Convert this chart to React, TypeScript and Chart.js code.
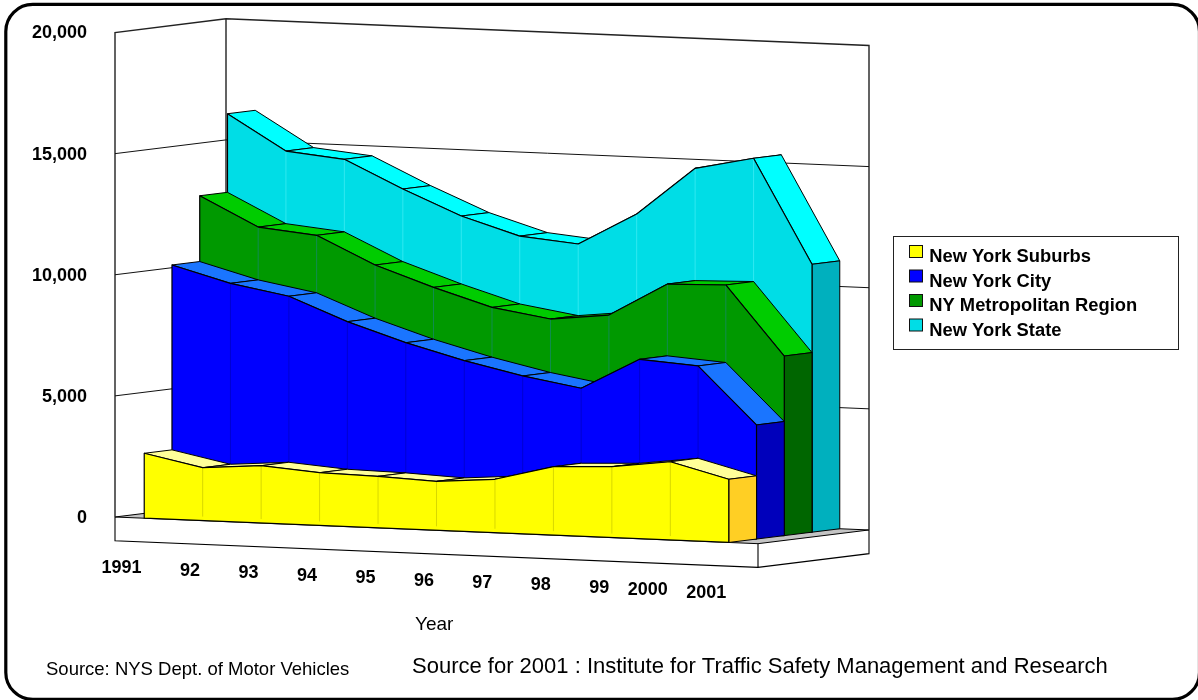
import React, { useEffect, useRef } from "react";
import { Chart, registerables } from "chart.js";

Chart.register(...registerables);

const years = ["1991", "92", "93", "94", "95", "96", "97", "98", "99", "2000", "2001"];
const suburbs = [2680, 2185, 2368, 2180, 2130, 2023, 2208, 2828, 2927, 3233, 2609];
const city = [10312, 9655, 9222, 8273, 7505, 6865, 6332, 5924, 7220, 7046, 4710];
const metro = [13028, 11835, 11595, 10469, 9647, 8921, 8540, 8805, 10184, 10246, 7414];
const state = [16272, 14832, 14592, 13465, 12450, 11723, 11496, 12834, 14819, 15335, 11059];
const yTicks = [0, 5000, 10000, 15000, 20000];

const seriesNames = ["New York Suburbs", "New York City", "NY Metropolitan Region", "New York State"];
const frontColors = ["#ffff00", "#0000ff", "#009900", "#00dde6"];
const topColors = ["#ffff99", "#1a75ff", "#00cc00", "#00ffff"];
const sideColors = ["#ffcf24", "#0000bb", "#006600", "#00b0be"];
const seamColors = ["#d8d800", "#0000d0", "#108c50", "#30e8f0"];

const FONT = '"Liberation Sans", Arial, sans-serif';
const SHEAR = 0.0415;
const DEPTH_X = 27.75;
const DEPTH_Y = -3.43;
const LAYERS = 4;

function buildPlugin() {
  const ground = (chart: any, x: number) => SHEAR * (x - chart.chartArea.left);

  return {
    id: "area3d",
    beforeDraw(chart: any) {
      const { ctx, chartArea } = chart;
      const yScale = chart.scales.y;
      const L = chartArea.left;
      const R = chartArea.right;
      const base = yScale.getPixelForValue(0);
      const top = yScale.getPixelForValue(20000);
      const dx = DEPTH_X * LAYERS;
      const dy = DEPTH_Y * LAYERS;
      const sh = SHEAR * (R - L);
      const slab = 23.7;

      ctx.save();
      ctx.fillStyle = "#ffffff";
      ctx.fillRect(0, 0, chart.width, chart.height);

      // rounded outer frame
      ctx.strokeStyle = "#000000";
      ctx.lineWidth = 3.2;
      ctx.beginPath();
      ctx.roundRect(5.8, 4.4, 1193.7, 695, 27);
      ctx.stroke();

      // floor
      ctx.fillStyle = "#c4c4c4";
      ctx.strokeStyle = "#000000";
      ctx.lineWidth = 1;
      ctx.beginPath();
      ctx.moveTo(L, base);
      ctx.lineTo(L + dx, base + dy);
      ctx.lineTo(R + dx, base + dy + sh);
      ctx.lineTo(R, base + sh);
      ctx.closePath();
      ctx.fill();
      ctx.stroke();

      // floor slab front
      ctx.lineWidth = 1.1;
      ctx.beginPath();
      ctx.moveTo(L, base);
      ctx.lineTo(L, base + slab);
      ctx.lineTo(R, base + sh + slab);
      ctx.lineTo(R + dx, base + sh + dy + slab);
      ctx.lineTo(R + dx, base + sh + dy);
      ctx.moveTo(R, base + sh);
      ctx.lineTo(R, base + sh + slab);
      ctx.stroke();

      // wall outlines
      ctx.strokeStyle = "#222222";
      ctx.lineWidth = 1.4;
      ctx.beginPath();
      ctx.moveTo(L, base);
      ctx.lineTo(L, top);
      ctx.lineTo(L + dx, top + dy);
      ctx.lineTo(R + dx, top + dy + sh);
      ctx.lineTo(R + dx, base + dy + sh);
      ctx.moveTo(L + dx, top + dy);
      ctx.lineTo(L + dx, base + dy);
      ctx.stroke();

      // grid lines on the walls
      ctx.strokeStyle = "#111111";
      ctx.lineWidth = 1;
      yTicks.slice(1, -1).forEach((v) => {
        const y = yScale.getPixelForValue(v);
        ctx.beginPath();
        ctx.moveTo(L, y);
        ctx.lineTo(L + dx, y + dy);
        ctx.lineTo(R + dx, y + dy + sh);
        ctx.stroke();
      });
      ctx.restore();
    },
    beforeDatasetDraw(chart: any, args: any) {
      const { ctx } = chart;
      const index = args.index;
      const yScale = chart.scales.y;
      const zero = yScale.getPixelForValue(0);
      const ox = DEPTH_X * index;
      const oy = DEPTH_Y * index;
      const pts = args.meta.data.map((p: any) => {
        const off = ground(chart, p.x);
        return {
          x: p.x + ox,
          y: p.y + off + oy,
          g: zero + off + oy,
        };
      });

      ctx.save();
      ctx.lineJoin = "round";

      // top faces
      ctx.fillStyle = topColors[index];
      ctx.strokeStyle = "#000000";
      ctx.lineWidth = 1;
      for (let i = 0; i < pts.length - 1; i++) {
        const a = pts[i];
        const b = pts[i + 1];
        ctx.beginPath();
        ctx.moveTo(a.x, a.y);
        ctx.lineTo(a.x + DEPTH_X, a.y + DEPTH_Y);
        ctx.lineTo(b.x + DEPTH_X, b.y + DEPTH_Y);
        ctx.lineTo(b.x, b.y);
        ctx.closePath();
        ctx.fill();
        ctx.stroke();
      }

      // right end face
      const last = pts[pts.length - 1];
      ctx.fillStyle = sideColors[index];
      ctx.beginPath();
      ctx.moveTo(last.x, last.y);
      ctx.lineTo(last.x + DEPTH_X, last.y + DEPTH_Y);
      ctx.lineTo(last.x + DEPTH_X, last.g + DEPTH_Y);
      ctx.lineTo(last.x, last.g);
      ctx.closePath();
      ctx.fill();
      ctx.stroke();

      // front face
      ctx.fillStyle = frontColors[index];
      ctx.beginPath();
      ctx.moveTo(pts[0].x, pts[0].g);
      pts.forEach((p: any) => ctx.lineTo(p.x, p.y));
      ctx.lineTo(last.x, last.g);
      ctx.closePath();
      ctx.fill();

      // seams between the years
      ctx.strokeStyle = seamColors[index];
      ctx.lineWidth = 1;
      for (let i = 1; i < pts.length - 1; i++) {
        ctx.beginPath();
        ctx.moveTo(pts[i].x, pts[i].y);
        ctx.lineTo(pts[i].x, pts[i].g - 4);
        ctx.stroke();
      }

      // outline of the front face
      ctx.strokeStyle = "#000000";
      ctx.lineWidth = 1.2;
      ctx.beginPath();
      ctx.moveTo(pts[0].x, pts[0].g);
      pts.forEach((p: any) => ctx.lineTo(p.x, p.y));
      ctx.lineTo(last.x, last.g);
      ctx.closePath();
      ctx.stroke();
      ctx.restore();
      return false;
    },
    afterLayout(chart: any) {
      const legend = chart.legend;
      if (!legend) return;
      const w = legend.width;
      const h = legend.height;
      legend.left = 901;
      legend.right = 901 + w;
      legend.top = 242;
      legend.bottom = 242 + h;
    },
    afterDraw(chart: any) {
      const { ctx, chartArea } = chart;
      const xScale = chart.scales.x;
      ctx.save();
      ctx.fillStyle = "#000000";

      // year labels, right aligned to each year's column along the sloped floor
      ctx.font = `bold 18px ${FONT}`;
      ctx.textAlign = "right";
      ctx.textBaseline = "middle";
      years.forEach((label, i) => {
        const x = xScale.getPixelForValue(i);
        ctx.fillText(label, x - 2.6, chartArea.bottom + SHEAR * (x - chartArea.left) + 50.2);
      });

      ctx.textAlign = "left";
      ctx.font = `19px ${FONT}`;
      ctx.fillText("Year", 415, 625);
      ctx.font = `18.5px ${FONT}`;
      ctx.fillText("Source: NYS Dept. of Motor Vehicles", 46, 670);
      ctx.font = `22px ${FONT}`;
      ctx.fillText("Source for 2001 : Institute for Traffic Safety Management and Research", 412, 667);

      // legend frame and swatches
      ctx.strokeStyle = "#222222";
      ctx.lineWidth = 1;
      ctx.strokeRect(893.5, 236.5, 285, 113);
      seriesNames.forEach((_, i) => {
        ctx.fillStyle = frontColors[i];
        ctx.strokeStyle = "#111111";
        ctx.fillRect(909.5, 245.5 + i * 24.5, 13, 12);
        ctx.strokeRect(909.5, 245.5 + i * 24.5, 13, 12);
      });
      ctx.restore();
    },
  };
}

export default function App() {
  const ref = useRef<HTMLCanvasElement>(null);

  useEffect(() => {
    document.body.style.margin = "0";
    const series = [suburbs, city, metro, state];
    const chart = new Chart(ref.current as HTMLCanvasElement, {
      type: "line",
      data: {
        labels: years,
        datasets: series.map((data, i) => ({
          label: seriesNames[i],
          data,
          borderColor: frontColors[i],
          backgroundColor: frontColors[i],
          pointRadius: 0,
          tension: 0,
          fill: false,
        })),
      },
      options: {
        responsive: false,
        animation: false,
        layout: { padding: { left: 0, right: 440, top: 32.5, bottom: 183 } },
        scales: {
          x: {
            type: "category",
            display: false,
            offset: true,
          },
          y: {
            type: "linear",
            min: 0,
            max: 20000,
            afterFit: (s: any) => {
              s.width = 115;
              s.paddingTop = 0;
              s.paddingBottom = 0;
            },
            afterBuildTicks: (s: any) => {
              s.ticks = yTicks.map((value) => ({ value }));
            },
            grid: { display: false, drawTicks: false },
            border: { display: false },
            ticks: {
              color: "#000000",
              padding: 28,
              labelOffset: 1,
              font: { family: FONT, size: 18, weight: "bold" },
              callback: (v: any) => Number(v).toLocaleString("en-US"),
            },
          },
        },
        plugins: {
          tooltip: { enabled: false },
          title: { display: false },
          legend: {
            display: true,
            position: "chartArea",
            align: "start",
            labels: {
              color: "#000000",
              boxWidth: 13,
              boxHeight: 12,
              padding: 6.1,
              font: { family: FONT, size: 18.35, weight: "bold" },
              generateLabels: () =>
                seriesNames.map((text, i) => ({
                  text,
                  fillStyle: "rgba(0,0,0,0)",
                  strokeStyle: "rgba(0,0,0,0)",
                  lineWidth: 0,
                  datasetIndex: i,
                  fontColor: "#000000",
                })),
            },
          },
        },
      },
      plugins: [buildPlugin()],
    } as any);
    return () => chart.destroy();
  }, []);

  return <canvas ref={ref} width={1198} height={700} style={{ display: "block" }} />;
}
